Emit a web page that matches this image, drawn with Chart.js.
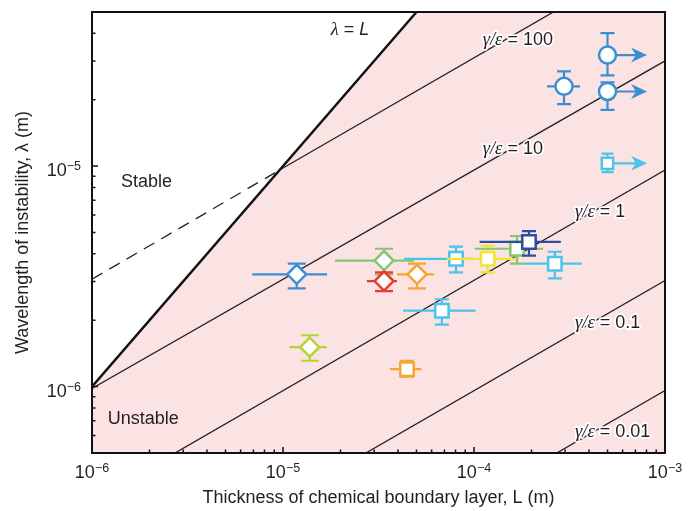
<!DOCTYPE html>
<html>
<head>
<meta charset="utf-8">
<script src="https://cdn.jsdelivr.net/npm/chart.js@4.4.1/dist/chart.umd.min.js"></script>
<style>
  html, body { margin: 0; padding: 0; background: #fff; }
</style>
</head>
<body>
<canvas id="chart" width="696" height="511"></canvas>
<script>
// measurements: boundary layer thickness L and wavelength lambda (metres)
const pointL      = [1.18e-5, 1.38e-5, 3.38e-5, 3.38e-5, 5.03e-5, 4.46e-5, 6.79e-5, 8.05e-5, 2.65e-4, 1.18e-4, 1.68e-4, 1.94e-4, 5.0e-4, 2.96e-4, 5.0e-4, 5.0e-4];
const pointLLow   = [6.9e-6, 1.08e-5, 1.87e-5, 2.75e-5, 3.95e-5, 3.63e-5, 4.25e-5, 4.3e-5, 1.81e-4, 7.23e-5, 1.01e-4, 1.07e-4, null, 2.41e-4, null, null];
const pointLHigh  = [1.70e-5, 1.70e-5, 4.85e-5, 3.95e-5, 6.18e-5, 5.30e-5, 1.02e-4, 1.0e-4, 3.67e-4, 1.64e-4, 2.30e-4, 2.85e-4, null, 3.59e-4, null, null];
const pointLambda = [3.23e-6, 1.51e-6, 3.73e-6, 3.01e-6, 3.23e-6, 1.20e-6, 2.21e-6, 3.80e-6, 3.61e-6, 3.80e-6, 4.22e-6, 4.53e-6, 1.03e-5, 2.30e-5, 3.19e-5, 2.18e-5];
const lambdaLow   = [2.79e-6, 1.31e-6, 3.23e-6, 2.71e-6, 2.79e-6, 1.11e-6, 1.91e-6, 3.30e-6, 3.10e-6, 3.30e-6, 3.61e-6, 3.93e-6, 9.4e-6, 1.91e-5, 2.58e-5, 1.80e-5];
const lambdaHigh  = [3.61e-6, 1.71e-6, 4.22e-6, 3.30e-6, 3.61e-6, 1.31e-6, 2.49e-6, 4.31e-6, 4.09e-6, 4.35e-6, 4.82e-6, 5.07e-6, 1.14e-5, 2.69e-5, 4.01e-5, 2.40e-5];
// lower bounds only: arrow points to larger L
const arrowToL    = [null, null, null, null, null, null, null, null, null, null, null, null, 8.05e-4, null, 8.05e-4, 8.05e-4];

// marker look, one per point
const markerShape  = ['diamond', 'diamond', 'diamond', 'diamond', 'diamond', 'square', 'square', 'square', 'square', 'square', 'square', 'square', 'smallsquare', 'circle', 'circle', 'circle'];
const markerColour = ['#3b8ed3', '#b5d336', '#84c66e', '#e63b2e', '#f6a531', '#f6a531', '#4cc3e9', '#4cc3e9', '#4cc3e9', '#f2e336', '#84c66e', '#2d4e9f', '#4cc3e9', '#3b8ed3', '#3b8ed3', '#3b8ed3'];

// lambda = L boundary
const stabilityL = [1e-6, 1e-3];
const stabilityLambda = [1e-6, 1e-3];

// gamma/epsilon lines (end points)
const ratioValues = ['100', '10', '1', '0.1', '0.01'];
const ratioLineL = [[9.6e-6, 1e-3], [1e-6, 1e-3], [1e-6, 1e-3], [1e-6, 1e-3], [1e-6, 1e-3]];
const ratioLineLambda = [[9.6e-6, 9.8e-5], [0.98e-6, 3.0e-5], [3.03e-7, 9.6e-6], [9.6e-8, 3.03e-6], [3.03e-8, 9.6e-7]];
const dashedL = [1e-6, 9.6e-6];
const dashedLambda = [3.07e-6, 9.6e-6];

// where the line labels sit (data units)
const ratioLabelL = [1.11e-4, 1.11e-4, 3.38e-4, 3.38e-4, 3.38e-4];
const ratioLabelLambda = [3.73e-5, 1.19e-5, 6.16e-6, 1.95e-6, 6.24e-7];

const xTickValues = [1e-6, 1e-5, 1e-4, 1e-3];
const xTickLabels = ['10^−6', '10^−5', '10^−4', '10^−3'];
const yTickValues = [1e-6, 1e-5];
const yTickLabels = ['10^−6', '10^−5'];

const sans = "'Liberation Sans', Arial, Helvetica, sans-serif";
const serif = "'Liberation Serif', 'Times New Roman', serif";
const textColour = '#231f20';
const pink = 'rgb(251, 227, 228)';

function logTicks(lo, hi) {
  const out = [];
  for (let e = Math.floor(Math.log10(lo)); e <= Math.ceil(Math.log10(hi)); e++) {
    for (let m = 1; m < 10; m++) {
      const v = m * Math.pow(10, e);
      if (v >= lo * 0.999 && v <= hi * 1.001) out.push({ value: v });
    }
  }
  return out;
}

function isDecade(v) {
  const l = Math.log10(v);
  return Math.abs(l - Math.round(l)) < 1e-6;
}

function pts(xs, ys) {
  return xs.map((x, i) => ({ x: x, y: ys[i] }));
}

const datasets = [];

datasets.push({
  data: pts(stabilityL, stabilityLambda),
  showLine: true,
  borderColor: '#111',
  borderWidth: 2.4,
  backgroundColor: pink,
  fill: 'start',
  pointRadius: 0,
  order: 1000,
});

datasets.push({
  data: pts(dashedL, dashedLambda),
  showLine: true,
  borderColor: '#222',
  borderWidth: 1.3,
  borderDash: [12, 8],
  pointRadius: 0,
  order: 900,
});

ratioLineL.forEach((xs, k) => {
  datasets.push({
    data: pts(xs, ratioLineLambda[k]),
    showLine: true,
    borderColor: '#222',
    borderWidth: 1.3,
    pointRadius: 0,
    order: 900,
  });
});

const styleOf = { diamond: 'rectRot', square: 'rect', smallsquare: 'rect', circle: 'circle' };
const radiusOf = { diamond: 9.5, square: 9.5, smallsquare: 8, circle: 8.5 };
const capOf = { diamond: 9, square: 7, smallsquare: 6, circle: 7 };

pointL.forEach((l, i) => {
  datasets.push({
    pointIndex: i,
    data: [{ x: l, y: pointLambda[i] }],
    showLine: false,
    pointStyle: styleOf[markerShape[i]],
    pointRadius: radiusOf[markerShape[i]],
    pointBorderWidth: 2.5,
    pointBorderColor: markerColour[i],
    pointBackgroundColor: '#fff',
    borderColor: markerColour[i],
    order: 100 - i,
  });
});

const errorBars = {
  id: 'errorBars',
  beforeDatasetDraw(chart, args) {
    const ds = chart.data.datasets[args.index];
    if (ds.pointIndex === undefined) return;
    const i = ds.pointIndex;
    const { ctx, chartArea: a, scales: { x, y } } = chart;
    const px = x.getPixelForValue(pointL[i]);
    const py = y.getPixelForValue(pointLambda[i]);
    const cap = capOf[markerShape[i]];
    ctx.save();
    ctx.beginPath();
    ctx.rect(a.left, a.top, a.right - a.left, a.bottom - a.top);
    ctx.clip();
    ctx.strokeStyle = markerColour[i];
    ctx.fillStyle = markerColour[i];
    ctx.lineWidth = 2.2;
    ctx.beginPath();
    if (pointLLow[i] !== null) {
      ctx.moveTo(x.getPixelForValue(pointLLow[i]), py);
      ctx.lineTo(x.getPixelForValue(pointLHigh[i]), py);
    }
    const y0 = y.getPixelForValue(lambdaLow[i]);
    const y1 = y.getPixelForValue(lambdaHigh[i]);
    ctx.moveTo(px, y0);
    ctx.lineTo(px, y1);
    ctx.moveTo(px - cap, y0);
    ctx.lineTo(px + cap, y0);
    ctx.moveTo(px - cap, y1);
    ctx.lineTo(px + cap, y1);
    let xa = null;
    if (arrowToL[i] !== null) {
      xa = x.getPixelForValue(arrowToL[i]);
      ctx.moveTo(px, py);
      ctx.lineTo(xa - 10, py);
    }
    ctx.stroke();
    if (xa !== null) {
      ctx.beginPath();
      ctx.moveTo(xa, py);
      ctx.lineTo(xa - 16, py - 7.5);
      ctx.lineTo(xa - 11, py);
      ctx.lineTo(xa - 16, py + 7.5);
      ctx.closePath();
      ctx.fill();
    }
    ctx.restore();
  },
};

function drawPieces(ctx, x, y, pieces, halo) {
  let cx = x;
  const placed = pieces.map(([txt, font]) => {
    ctx.font = font;
    const w = ctx.measureText(txt).width;
    const item = [txt, font, cx];
    cx += w;
    return item;
  });
  if (halo) {
    ctx.strokeStyle = 'rgba(255,255,255,0.95)';
    ctx.lineWidth = 3.5;
    ctx.lineJoin = 'round';
    placed.forEach(([txt, font, px]) => { ctx.font = font; ctx.strokeText(txt, px, y); });
  }
  ctx.fillStyle = textColour;
  placed.forEach(([txt, font, px]) => { ctx.font = font; ctx.fillText(txt, px, y); });
  return cx - x;
}

// "10" with a raised exponent; anchor is centre (x axis) or right end (y axis)
function drawPower(ctx, label, ax, baseline, align) {
  const [base, exp] = label.split('^');
  ctx.font = '18px ' + sans;
  const wb = ctx.measureText(base).width;
  ctx.font = '12.5px ' + sans;
  const we = ctx.measureText(exp).width;
  const left = align === 'center' ? ax - (wb + we) / 2 : ax - (wb + we);
  ctx.fillStyle = textColour;
  ctx.textBaseline = 'alphabetic';
  ctx.textAlign = 'left';
  ctx.font = '18px ' + sans;
  ctx.fillText(base, left, baseline);
  ctx.font = '12.5px ' + sans;
  ctx.fillText(exp, left + wb, baseline - 6);
}

const annotations = {
  id: 'annotations',
  afterDatasetsDraw(chart) {
    const { ctx, scales: { x, y } } = chart;
    ctx.save();
    ctx.textBaseline = 'middle';
    ctx.textAlign = 'left';
    const it = 'italic 18.5px ' + serif;
    const rg = '18px ' + sans;
    ratioValues.forEach((v, k) => {
      drawPieces(ctx, x.getPixelForValue(ratioLabelL[k]), y.getPixelForValue(ratioLabelLambda[k]),
        [['γ/ε', it], [' = ' + v, rg]], true);
    });
    // lambda = L label, centred
    const lp = [['λ', it], [' = ', rg], ['L', 'italic 18px ' + sans]];
    let w = 0;
    lp.forEach(([t, f]) => { ctx.font = f; w += ctx.measureText(t).width; });
    drawPieces(ctx, x.getPixelForValue(2.24e-5) - w / 2, y.getPixelForValue(4.15e-5), lp, false);
    drawPieces(ctx, x.getPixelForValue(1.42e-6), y.getPixelForValue(8.49e-6), [['Stable', rg]], false);
    drawPieces(ctx, x.getPixelForValue(1.21e-6), y.getPixelForValue(7.12e-7), [['Unstable', rg]], false);
    ctx.restore();
  },
};

const frame = {
  id: 'frame',
  afterDraw(chart) {
    const { ctx, chartArea: a, scales: { x, y } } = chart;
    ctx.save();
    ctx.strokeStyle = '#111';
    ctx.lineWidth = 1.5;
    ctx.beginPath();
    x.ticks.forEach((t) => {
      const p = x.getPixelForValue(t.value);
      ctx.moveTo(p, a.bottom);
      ctx.lineTo(p, a.bottom - (isDecade(t.value) ? 6 : 3.5));
    });
    y.ticks.forEach((t) => {
      const p = y.getPixelForValue(t.value);
      ctx.moveTo(a.left, p);
      ctx.lineTo(a.left + (isDecade(t.value) ? 6 : 3.5), p);
    });
    ctx.stroke();
    ctx.lineWidth = 2;
    ctx.strokeRect(a.left, a.top, a.right - a.left, a.bottom - a.top);
    // decade labels
    xTickValues.forEach((v, k) => {
      drawPower(ctx, xTickLabels[k], x.getPixelForValue(v), a.bottom + 25, 'center');
    });
    yTickValues.forEach((v, k) => {
      drawPower(ctx, yTickLabels[k], a.left - 11, y.getPixelForValue(v) + 10, 'right');
    });
    ctx.restore();
  },
};

new Chart(document.getElementById('chart'), {
  type: 'scatter',
  data: { datasets: datasets },
  plugins: [errorBars, annotations, frame],
  options: {
    responsive: false,
    animation: false,
    events: [],
    layout: { padding: { top: 6, right: 31, bottom: 0, left: 0 } },
    plugins: { legend: { display: false }, tooltip: { enabled: false } },
    scales: {
      x: {
        type: 'logarithmic',
        min: 1e-6,
        max: 1e-3,
        afterFit: (s) => { s.height = 58; },
        afterBuildTicks: (s) => { s.ticks = logTicks(1e-6, 1e-3); },
        grid: { display: false, drawTicks: false },
        border: { display: false },
        ticks: { display: false },
        title: {
          display: true,
          text: 'Thickness of chemical boundary layer, L (m)',
          color: textColour,
          font: { family: sans, size: 18 },
          padding: { top: 0, bottom: 2 },
        },
      },
      y: {
        type: 'logarithmic',
        min: 5e-7,
        max: 5e-5,
        afterFit: (s) => { s.width = 92; },
        afterBuildTicks: (s) => { s.ticks = logTicks(5e-7, 5e-5); },
        grid: { display: false, drawTicks: false },
        border: { display: false },
        ticks: { display: false },
        title: {
          display: true,
          text: 'Wavelength of instability, λ (m)',
          color: textColour,
          font: { family: sans, size: 18 },
          padding: { top: 12, bottom: 0 },
        },
      },
    },
  },
});
</script>
</body>
</html>
